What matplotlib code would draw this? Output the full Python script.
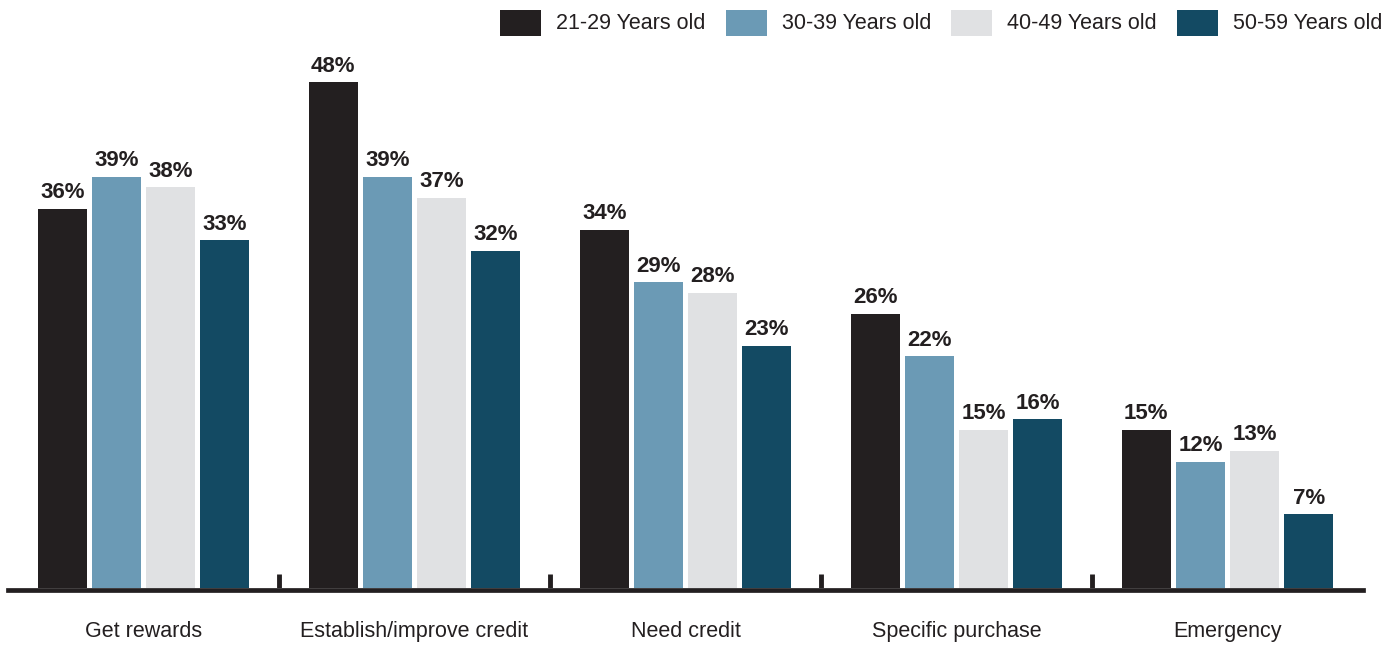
import numpy as np
import matplotlib
matplotlib.use("Agg")
import matplotlib.pyplot as plt
from matplotlib import font_manager
from matplotlib.patches import Rectangle

# condensed look if the narrow face exists, plain Liberation otherwise
_names = {f.name for f in font_manager.fontManager.ttflist}
FONT = "Liberation Sans Narrow" if "Liberation Sans Narrow" in _names else "Liberation Sans"
plt.rcParams["font.family"] = [FONT, "DejaVu Sans"]

categories = ["Get rewards", "Establish/improve credit", "Need credit",
              "Specific purchase", "Emergency"]
ages = ["21-29 Years old", "30-39 Years old", "40-49 Years old", "50-59 Years old"]
age_21_29 = [36, 48, 34, 26, 15]
age_30_39 = [39, 39, 29, 22, 12]
age_40_49 = [38, 37, 28, 15, 13]
age_50_59 = [33, 32, 23, 16, 7]
series = [age_21_29, age_30_39, age_40_49, age_50_59]
colors = ["#231f20", "#6b9ab5", "#e0e1e3", "#134a63"]
INK = "#231f20"

W, H = 1398, 649
fig = plt.figure(figsize=(W / 100, H / 100), dpi=100)
ax = fig.add_axes([8 / W, (H - 588) / H, (1363 - 8) / W, 527 / H])

x = np.arange(len(categories))
offsets = [-0.3, -0.1, 0.1, 0.3]
for vals, off, col in zip(series, offsets, colors):
    bars = ax.bar(x + off, vals, width=0.181, color=col, zorder=2)
    for b, v in zip(bars, vals):
        ax.annotate(f"{v}%", (b.get_x() + b.get_width() / 2, v),
                    xytext=(0, 4), textcoords="offset points",
                    ha="center", va="bottom", fontsize=16,
                    fontweight="bold", color=INK)

# heavy baseline under the bars and small separators between groups
ax.axhline(-0.22, color=INK, lw=3.4, clip_on=False, zorder=3)
ax.vlines(x[:-1] + 0.5, 0, 1.35, color=INK, lw=3.5, zorder=3)

ax.set_xlim(-0.5, 4.5)
ax.set_ylim(0, 50)
for s in ax.spines.values():
    s.set_visible(False)
ax.set_yticks([])
ax.set_xticks(x)
ax.set_xticklabels(categories, fontsize=15.5, color=INK)
ax.tick_params(axis="x", length=0, pad=24)

# legend row across the top right: swatch then label
for i, (lab, col) in enumerate(zip(ages, colors)):
    x0 = 500 + i * 225.7
    fig.patches.append(Rectangle((x0 / W, 1 - 36 / H), 41 / W, 26 / H,
                                 transform=fig.transFigure, facecolor=col,
                                 edgecolor="none"))
    fig.text((x0 + 56) / W, 1 - 23.5 / H, lab, ha="left", va="center",
             fontsize=15.5, color=INK)

fig.savefig("out.png", dpi=100)
